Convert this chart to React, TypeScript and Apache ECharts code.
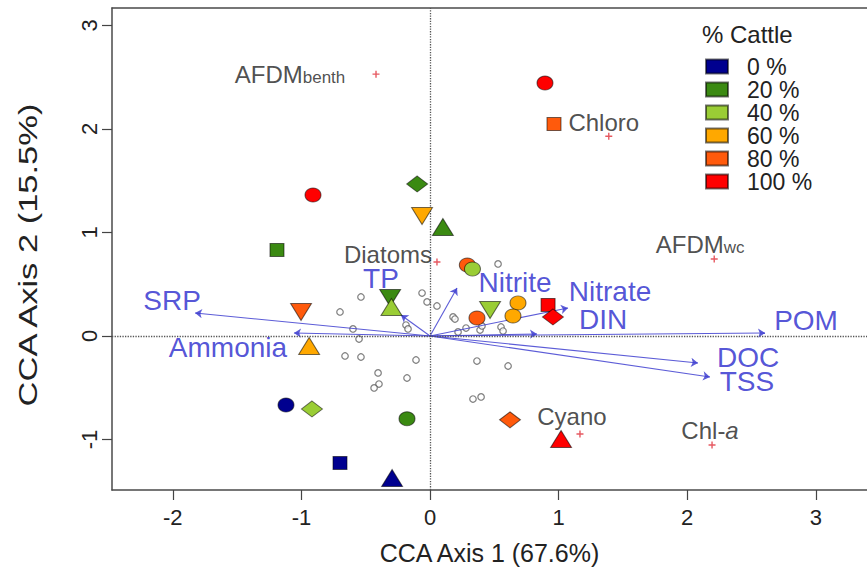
import React, { useEffect, useRef } from 'react';
import * as echarts from 'echarts';

// ---------- data ----------
const cattleLevels = ['0 %', '20 %', '40 %', '60 %', '80 %', '100 %'];
const cattleColors = ['#00008f', '#3b8a12', '#9acd35', '#ffa800', '#ff5a0c', '#ff0000'];

type Site = [number, number, string];
const sites0: Site[] = [[-1.12, -0.667, 'circle'], [-0.70, -1.227, 'square'], [-0.295, -1.372, 'triangle']];
const sites20: Site[] = [[-0.10, 1.469, 'diamond'], [0.10, 1.053, 'triangle'], [-1.19, 0.831, 'square'], [-0.31, 0.367, 'invTriangle'], [-0.179, -0.80, 'circle']];
const sites40: Site[] = [[-0.30, 0.28, 'triangle'], [0.467, 0.251, 'invTriangle'], [-0.918, -0.705, 'diamond']];
const sites40b: Site[] = [[0.33, 0.647, 'circle']];
const sites60: Site[] = [[-0.062, 1.159, 'invTriangle'], [0.684, 0.319, 'circle'], [0.645, 0.193, 'circle'], [-0.94, -0.097, 'triangle']];
const sites80: Site[] = [[0.964, 2.048, 'square'], [0.29, 0.686, 'circle'], [0.365, 0.174, 'circle'], [-1.003, 0.232, 'invTriangle'], [0.622, -0.81, 'diamond']];
const sites100: Site[] = [[0.894, 2.444, 'circle'], [-0.91, 1.362, 'circle'], [0.918, 0.30, 'square'], [0.956, 0.184, 'diamond'], [1.019, -0.995, 'triangle']];

const samplePoints: [number, number][] = [
  [0.529, 0.696], [-0.537, 0.377], [-0.062, 0.415], [-0.023, 0.329], [0.054, 0.290],
  [-0.700, 0.232], [0.179, 0.184], [0.194, 0.164], [-0.187, 0.106], [-0.171, 0.068],
  [-0.599, 0.068], [-0.552, -0.029], [0.218, 0.039], [0.280, 0.077], [0.389, 0.058],
  [0.404, 0.097], [0.552, 0.087], [0.568, 0.048], [-0.661, -0.193], [-0.537, -0.203],
  [-0.109, -0.232], [0.365, -0.242], [0.607, -0.290], [-0.404, -0.357], [-0.179, -0.406],
  [-0.397, -0.464], [-0.435, -0.502], [0.334, -0.609], [0.397, -0.589],
];

const speciesNames = ['AFDMbenth', 'Chloro', 'Diatoms', 'AFDMwc', 'Cyano', 'Chl-a'];
const speciesX = [-0.42, 1.39, 0.054, 2.21, 1.166, 2.193];
const speciesY = [2.53, 1.93, 0.715, 0.744, -0.947, -1.053];

const envNames = ['SRP', 'Ammonia', 'TP', 'Nitrite', 'Nitrate', 'DIN', 'POM', 'DOC', 'TSS'];
const envX = [-1.827, -1.058, -0.226, 0.21, 1.073, 0.832, 2.605, 2.084, 2.177];
const envY = [0.222, 0.029, 0.203, 0.464, 0.271, 0.019, 0.029, -0.261, -0.396];

const xTicks = [-2, -1, 0, 1, 2, 3];
const yTicks = [-1, 0, 1, 2, 3];

const xTitle = 'CCA Axis 1 (67.6%)';
const yTitle = 'CCA Axis 2 (15.5%)';

// ---------- styles ----------
const FONT = '"Liberation Sans", Arial, sans-serif';
const FRAME = { color: '#4a4a4a', width: 1.5 };
const envLabelOffsets: Record<string, [number, number]> = {
  SRP: [-23, -13], Ammonia: [-66, 15], TP: [-20, -36], Nitrite: [58, -5], Nitrate: [42, -16],
  DIN: [66, -15], POM: [41, -12], DOC: [50, -6], TSS: [37, 5],
};
const speciesLabel: Record<string, { text: string; offset: [number, number] }> = {
  AFDMbenth: { text: '{m|AFDM}{s|benth}', offset: [-86, 0] },
  Chloro: { text: '{m|Chloro}', offset: [-5, -14] },
  Diatoms: { text: '{m|Diatoms}', offset: [-49, -7] },
  AFDMwc: { text: '{m|AFDM}{s|wc}', offset: [-14, -14] },
  Cyano: { text: '{m|Cyano}', offset: [-8, -18] },
  'Chl-a': { text: '{m|Chl-}{i|a}', offset: [-2, -14] },
};
const shapeStyle: Record<string, { symbol: string; size: number[]; rotate: number }> = {
  circle: { symbol: 'circle', size: [16, 14], rotate: 0 },
  square: { symbol: 'rect', size: [14, 13], rotate: 0 },
  triangle: { symbol: 'triangle', size: [21, 17], rotate: 0 },
  invTriangle: { symbol: 'triangle', size: [21, 17], rotate: 180 },
  diamond: { symbol: 'diamond', size: [21, 16], rotate: 0 },
};

function siteSeries(name: string, color: string, pts: Site[], z: number) {
  return {
    name,
    type: 'scatter',
    z,
    data: pts.map((p) => ({
      value: [p[0], p[1]],
      symbol: shapeStyle[p[2]].symbol,
      symbolSize: shapeStyle[p[2]].size,
      symbolRotate: shapeStyle[p[2]].rotate,
    })),
    itemStyle: { color, borderColor: 'rgba(0,0,0,0.55)', borderWidth: 1, opacity: 1 },
  };
}

export default function App() {
  const ref = useRef<HTMLDivElement>(null);
  useEffect(() => {
    if (!ref.current) return;
    const chart = echarts.init(ref.current, undefined, { renderer: 'svg' });
    const groups = [sites0, sites20, sites40, sites60, sites80, sites100];
    const siteSeriesList: any[] = groups.map((g, i) => siteSeries(cattleLevels[i], cattleColors[i], g, 5));
    siteSeriesList.push(siteSeries(cattleLevels[2], cattleColors[2], sites40b, 6));

    const option: any = {
      animation: false,
      backgroundColor: '#fff',
      textStyle: { fontFamily: FONT },
      grid: { left: 112, top: 8, right: 0, bottom: 81, show: false },
      title: {
        text: '% Cattle', left: 697, top: 17,
        textStyle: { fontSize: 24, fontWeight: 'normal', color: '#222', fontFamily: FONT },
      },
      legend: {
        orient: 'vertical', left: 700, top: 50, itemWidth: 22, itemHeight: 14, itemGap: 0, icon: 'rect',
        data: cattleLevels,
        textStyle: { fontSize: 23, lineHeight: 23, color: '#222', fontFamily: FONT, padding: [0, 0, 0, 14] },
      },
      graphic: [
        {
          type: 'text', x: 28, y: 255, rotation: Math.PI / 2, scaleX: 1.38,
          style: { text: yTitle, fontSize: 25, fontFamily: FONT, fill: '#222', align: 'center', verticalAlign: 'middle' },
        },
      ],
      xAxis: [
        {
          type: 'value', min: -2.473, max: 3.398, position: 'bottom',
          splitLine: { show: false },
          axisLine: { show: true, onZero: false, lineStyle: FRAME },
          axisTick: { show: true, length: 10, customValues: xTicks, lineStyle: { color: '#444', width: 1.2 } },
          axisLabel: { customValues: xTicks, fontSize: 22, color: '#222', margin: 16, fontFamily: FONT },
          name: xTitle, nameLocation: 'middle', nameGap: 50,
          nameTextStyle: { fontSize: 25, color: '#222', fontFamily: FONT },
        },
        {
          type: 'value', min: -2.473, max: 3.398, position: 'top',
          splitLine: { show: false },
          axisLine: { show: true, onZero: false, lineStyle: FRAME },
          axisTick: { show: false },
          axisLabel: { show: false },
        },
      ],
      yAxis: {
        type: 'value', min: -1.488, max: 3.169,
        splitLine: { show: false },
        axisLine: { show: true, onZero: false, lineStyle: FRAME },
        axisTick: { show: true, length: 10, customValues: yTicks, lineStyle: { color: '#444', width: 1.2 } },
        axisLabel: { customValues: yTicks, rotate: 90, fontSize: 22, color: '#222', margin: 12, fontFamily: FONT },
      },
      series: [
        {
          name: 'samples', type: 'scatter', z: 2, symbol: 'circle', symbolSize: 6.5,
          data: samplePoints,
          itemStyle: { color: '#fff', borderColor: '#5e5e5e', borderWidth: 1.2 },
          markLine: {
            silent: true, symbol: 'none', label: { show: false },
            lineStyle: { type: 'dotted', color: '#555', width: 1.3 },
            data: [{ xAxis: 0 }, { yAxis: 0 }],
          },
        },
        {
          name: 'vectors', type: 'lines', coordinateSystem: 'cartesian2d', z: 3,
          symbol: ['none', 'arrow'], symbolSize: 7,
          lineStyle: { color: '#4040d0', width: 1.1, opacity: 0.85 },
          data: envNames.map((n, i) => ({ coords: [[0, 0], [envX[i], envY[i]]] })),
        },
        ...siteSeriesList,
        {
          name: 'envLabels', type: 'scatter', z: 8, symbol: 'circle', symbolSize: 1,
          itemStyle: { color: 'rgba(0,0,0,0)' },
          data: envNames.map((n, i) => ({
            value: [envX[i], envY[i]], name: n,
            label: { offset: envLabelOffsets[n] },
          })),
          label: {
            show: true, position: 'inside', formatter: '{b}',
            fontSize: 28, color: '#2828cc', fontFamily: FONT,
          },
        },
        {
          name: 'species', type: 'scatter', z: 7,
          symbol: 'path://M4,0h2v4h4v2h-4v4h-2v-4h-4v-2h4z', symbolSize: 7,
          itemStyle: { color: '#e0303a' },
          data: speciesNames.map((n, i) => ({
            value: [speciesX[i], speciesY[i]], name: n,
            label: { formatter: speciesLabel[n].text, offset: speciesLabel[n].offset },
          })),
          label: {
            show: true, position: 'inside', color: '#222',
            rich: {
              m: { fontSize: 24, color: '#222', fontFamily: FONT },
              s: { fontSize: 17, color: '#222', fontFamily: FONT, padding: [6, 0, 0, 0] },
              i: { fontSize: 24, color: '#222', fontFamily: FONT, fontStyle: 'italic' },
            },
          },
        },
      ],
    };
    chart.setOption(option);
    return () => chart.dispose();
  }, []);
  return <div ref={ref} style={{ position: 'fixed', left: 0, top: 0, width: 867, height: 571, background: '#fff' }} />;
}
